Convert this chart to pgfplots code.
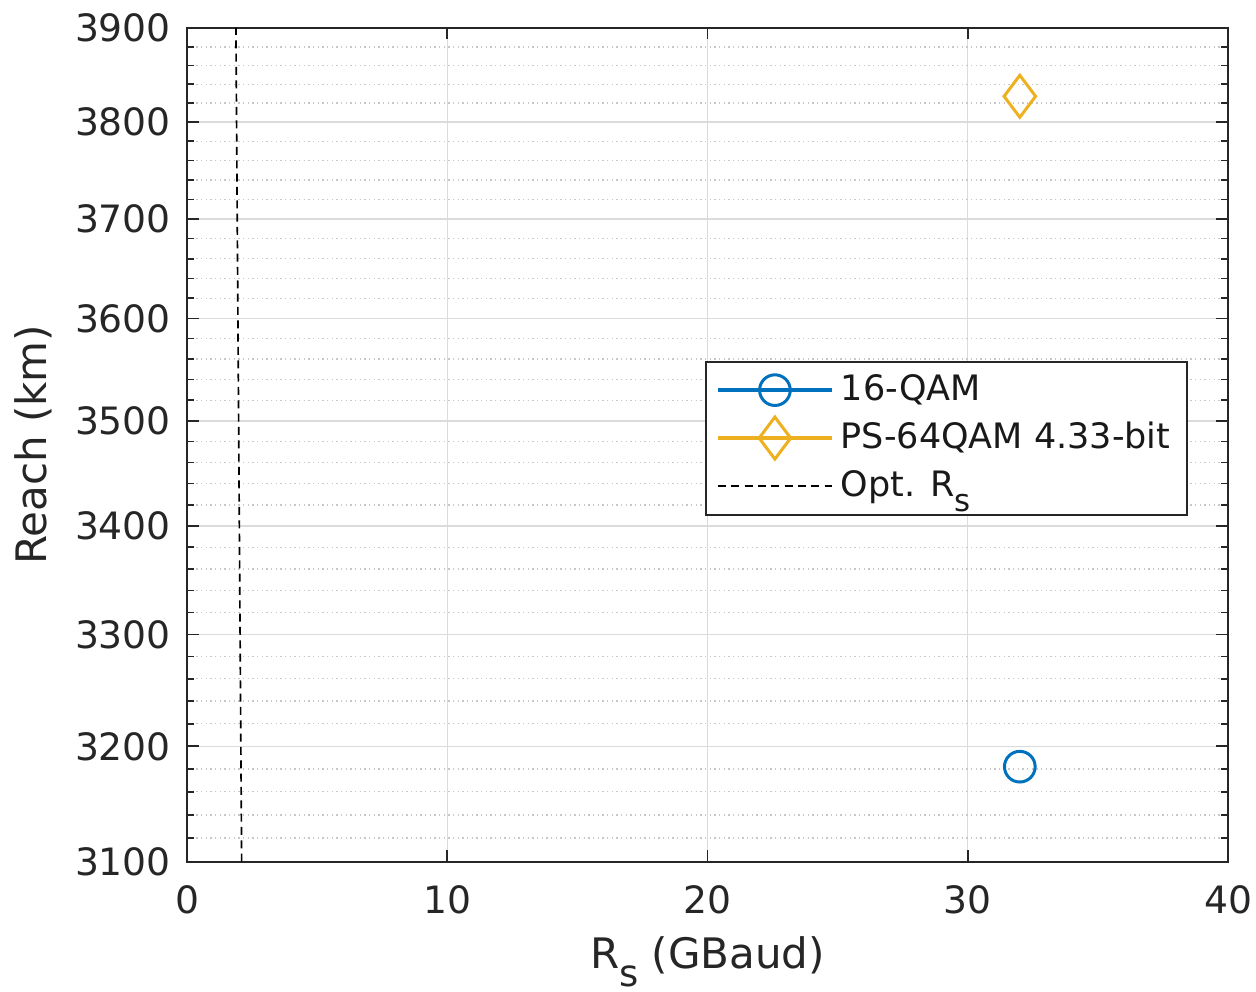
\documentclass[border=0pt]{standalone}
\usepackage{fontspec}
\setmainfont{DejaVu Sans}
\usepackage{pgfplots}
\pgfplotsset{compat=1.18}
\definecolor{mblue}{rgb}{0,0.447,0.741}
\definecolor{myellow}{rgb}{0.929,0.694,0.125}
\definecolor{maxis}{rgb}{0.15,0.15,0.15}
\newcommand{\sub}[1]{\raisebox{-0.42em}{\scalebox{0.88}{#1}}}
\begin{document}
\begin{tikzpicture}
\begin{axis}[
  scale only axis,
  width=312.3pt, height=250.2pt,
  xmin=0, xmax=40,
  ymode=log,
  ymin=3100, ymax=3900,
  xtick={0,10,20,30,40},
  ytick={3100,3200,3300,3400,3500,3600,3700,3800,3900},
  yticklabels={3100,3200,3300,3400,3500,3600,3700,3800,3900},
  minor ytick={3120,3140,3160,3180,3220,3240,3260,3280,3320,3340,3360,3380,3420,3440,3460,3480,3520,3540,3560,3580,3620,3640,3660,3680,3720,3740,3760,3780,3820,3840,3860,3880},
  /pgf/number format/assume math mode=true,
  tick label style={font=\fontsize{11.3}{13}\selectfont, text=maxis},
  every x tick label/.append style={yshift=-3.5pt},
  every y tick label/.append style={xshift=-1.3pt},
  label style={font=\fontsize{12.6}{14}\selectfont, text=maxis},
  xlabel={R\sub{s} (GBaud)},
  ylabel={Reach (km)},
  tick align=inside,
  major tick length=3.5pt,
  minor tick length=2.2pt,
  every tick/.style={maxis, line width=0.5pt},
  axis line style={maxis, line width=0.6pt},
  grid=both,
  major grid style={black!14, line width=0.4pt},
  minor grid style={black!22, densely dotted, line width=0.4pt},
  legend style={at={(0.9616,0.6007)}, anchor=north east, draw=maxis, line width=0.6pt,
    font=\fontsize{10.5}{12}\selectfont, text=black!90, inner xsep=3pt, inner ysep=1.9pt, row sep=1pt,
    cells={anchor=west}},
  legend image code/.code={\draw[mark repeat=2, mark phase=2, #1] plot coordinates {(0cm,0cm) (0.6cm,0cm) (1.2cm,0cm)};},
]
\addplot[mblue, line width=1.4pt, mark=o, mark size=4.6pt, mark options={line width=0.9pt}] coordinates {(32,3182)};
\addlegendentry{16-QAM}
\addplot[myellow, line width=1.4pt, mark=diamond, mark size=6.3pt, mark options={line width=0.9pt}] coordinates {(32,3827)};
\addlegendentry{PS-64QAM 4.33-bit}
\addplot[black, line width=0.5pt, dash pattern=on 2.4pt off 1.6pt] coordinates {(2.10,3100) (1.88,3900)};
\addlegendentry{Opt. R\sub{s}\rule[-12pt]{0pt}{1pt}}
\end{axis}
\pgfresetboundingbox
\path[use as bounding box] ([shift={(-56.1pt,-38.7pt)}]current axis.south west) rectangle ([shift={(8.4pt,8.4pt)}]current axis.north east);
\end{tikzpicture}
\end{document}
